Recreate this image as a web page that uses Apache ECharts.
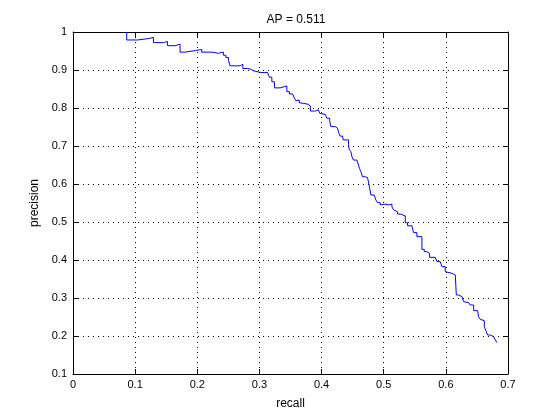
<!DOCTYPE html>
<html>
<head>
<meta charset="utf-8">
<script src="https://cdn.jsdelivr.net/npm/echarts@6/dist/echarts.min.js"></script>
<style>
html,body{margin:0;padding:0;background:#fff;}
#chart{width:560px;height:420px;}
</style>
</head>
<body>
<div id="chart"></div>
<script>
var titleText = 'AP = 0.511';
var xName = 'recall';
var yName = 'precision';
var xTicks = [0, 0.1, 0.2, 0.3, 0.4, 0.5, 0.6, 0.7];
var yTicks = [0.1, 0.2, 0.3, 0.4, 0.5, 0.6, 0.7, 0.8, 0.9, 1];

var recall = [
  0.0864, 0.0864, 0.1036, 0.1229, 0.1294, 0.1455, 0.152, 0.1643, 0.1723, 0.1804,
  0.1965, 0.2072, 0.2233, 0.234, 0.242, 0.2459, 0.2501, 0.2528, 0.2689, 0.2733,
  0.2813, 0.2861, 0.2904, 0.30, 0.3076, 0.3129, 0.3161, 0.32, 0.3242, 0.3333,
  0.3441, 0.3483, 0.3532, 0.3564, 0.3586, 0.3612, 0.364, 0.367, 0.3715, 0.378,
  0.382, 0.39, 0.395, 0.397, 0.40, 0.406, 0.4085, 0.413, 0.415, 0.422,
  0.4256, 0.428, 0.43, 0.4337, 0.435, 0.4434, 0.4444, 0.4472, 0.4488, 0.4514,
  0.4568, 0.4594, 0.461, 0.4633, 0.4659, 0.470, 0.474, 0.477, 0.4794, 0.4847,
  0.4874, 0.49, 0.4944, 0.497, 0.5024, 0.5078, 0.5132, 0.5158, 0.5185, 0.5222,
  0.5266, 0.5347, 0.5384, 0.5454, 0.548, 0.5534, 0.5615, 0.5652, 0.5695, 0.5738,
  0.583, 0.5856, 0.591, 0.5937, 0.599, 0.6017, 0.6098, 0.6152, 0.6168, 0.6205,
  0.6259, 0.6286, 0.6313, 0.6366, 0.6393, 0.6447, 0.6511, 0.6527, 0.6554, 0.6581,
  0.6619, 0.6651, 0.6672, 0.6715, 0.6769, 0.6796, 0.6823
];
var precision = [
  1.0, 0.979, 0.983, 0.986, 0.972, 0.975, 0.964, 0.968, 0.947, 0.951,
  0.954, 0.947, 0.944, 0.947, 0.939, 0.933, 0.926, 0.911, 0.915, 0.904,
  0.902, 0.898, 0.894, 0.893, 0.894, 0.889, 0.881, 0.869, 0.853, 0.858,
  0.843, 0.837, 0.833, 0.826, 0.819, 0.821, 0.814, 0.812, 0.810, 0.805,
  0.792, 0.795, 0.797, 0.786, 0.783, 0.779, 0.773, 0.766, 0.751, 0.747,
  0.742, 0.733, 0.726, 0.722, 0.716, 0.703, 0.691, 0.685, 0.672, 0.663,
  0.659, 0.65, 0.641, 0.632, 0.619, 0.617, 0.615, 0.593, 0.571, 0.567,
  0.558, 0.551, 0.545, 0.547, 0.545, 0.547, 0.54, 0.532, 0.527, 0.521,
  0.516, 0.498, 0.49, 0.488, 0.472, 0.4614, 0.428, 0.422, 0.4175, 0.407,
  0.4044, 0.3956, 0.3912, 0.3825, 0.3693, 0.365, 0.3605, 0.3561, 0.308, 0.3035,
  0.299, 0.2904, 0.2877, 0.286, 0.2816, 0.2667, 0.264, 0.2509, 0.2439, 0.2404,
  0.2246, 0.2114, 0.2026, 0.1983, 0.1939, 0.1895, 0.1825
];

var pts = recall.map(function (r, i) { return [r, precision[i]]; });
var FONT = 'Liberation Sans, Arial, Helvetica, sans-serif';
function fmt(v) { return String(+(+v).toFixed(1)); }

var chart = echarts.init(document.getElementById('chart'), null, {renderer: 'canvas'});
var axisLineStyle = {color: '#000', width: 1};
var gridStyle = {show: true, lineStyle: {color: '#000', width: 1, type: [1, 4]}};

chart.setOption({
  animation: false,
  backgroundColor: '#ffffff',
  title: {
    text: titleText,
    left: 291,
    top: 9,
    textAlign: 'center',
    textStyle: {fontFamily: FONT, fontSize: 12, fontWeight: 'normal', color: '#000'}
  },
  grid: {left: 73, right: 52, top: 32, bottom: 46, containLabel: false},
  xAxis: [{
    type: 'value', min: xTicks[0], max: xTicks[xTicks.length - 1], interval: 0.1,
    position: 'bottom',
    name: xName, nameLocation: 'middle', nameGap: 24,
    nameTextStyle: {fontFamily: FONT, fontSize: 12, color: '#000'},
    axisLine: {show: true, onZero: false, lineStyle: axisLineStyle},
    axisTick: {show: true, inside: true, length: 5, lineStyle: axisLineStyle},
    axisLabel: {formatter: fmt, fontFamily: FONT, fontSize: 11, color: '#000', margin: 5},
    splitLine: gridStyle
  }, {
    type: 'value', min: xTicks[0], max: xTicks[xTicks.length - 1], interval: 0.1,
    position: 'top',
    axisLine: {show: true, onZero: false, lineStyle: axisLineStyle},
    axisTick: {show: true, inside: true, length: 5, lineStyle: axisLineStyle},
    axisLabel: {show: false},
    splitLine: {show: false}
  }],
  yAxis: [{
    type: 'value', min: yTicks[0], max: yTicks[yTicks.length - 1], interval: 0.1,
    position: 'left',
    name: yName, nameLocation: 'middle', nameGap: 30,
    nameTextStyle: {fontFamily: FONT, fontSize: 12, color: '#000'},
    axisLine: {show: true, onZero: false, lineStyle: axisLineStyle},
    axisTick: {show: true, inside: true, length: 5, lineStyle: axisLineStyle},
    axisLabel: {formatter: fmt, fontFamily: FONT, fontSize: 11, color: '#000', margin: 6},
    splitLine: gridStyle
  }, {
    type: 'value', min: yTicks[0], max: yTicks[yTicks.length - 1], interval: 0.1,
    position: 'right',
    axisLine: {show: true, onZero: false, lineStyle: axisLineStyle},
    axisTick: {show: true, inside: true, length: 5, lineStyle: axisLineStyle},
    axisLabel: {show: false},
    splitLine: {show: false}
  }],
  series: [{
    type: 'line',
    xAxisIndex: 0,
    yAxisIndex: 0,
    data: pts,
    step: 'end',
    showSymbol: false,
    symbol: 'none',
    lineStyle: {color: '#0000ff', width: 1},
    silent: true
  }]
});
</script>
</body>
</html>
